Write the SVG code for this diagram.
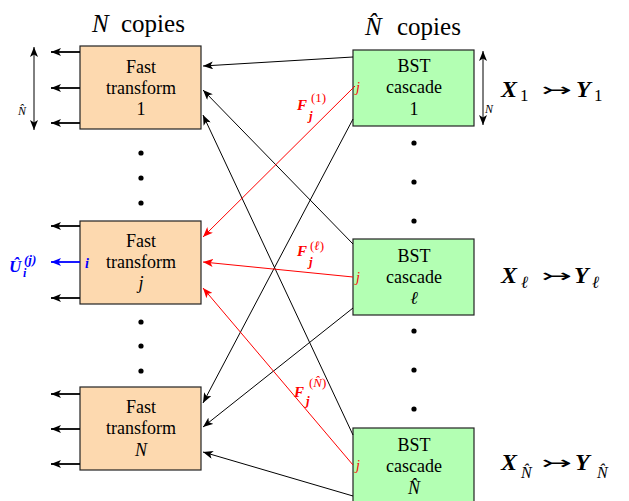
<svg xmlns="http://www.w3.org/2000/svg" width="629" height="501" viewBox="0 0 629 501" font-family="Liberation Serif, serif">
<style>
.fast{fill:#fdd9af;stroke:#222;stroke-width:1.2}
.bst{fill:#b3ffb3;stroke:#222;stroke-width:1.2}
.lbl{font-size:18px;text-anchor:middle}
.it{font-style:italic}
.bi{font-style:italic;font-weight:bold}
.out{stroke:#000;stroke-width:1.8;fill:none}
.con{stroke:#000;stroke-width:1;fill:none}
.red{stroke:#f00;stroke-width:1;fill:none}
.blue{stroke:#00f;stroke-width:1.8;fill:none}
.r{fill:#f00}
.b{fill:#00f}
</style>
<defs>
<marker id="ak" viewBox="0 0 10 8" refX="10" refY="4" markerWidth="10" markerHeight="8" orient="auto-start-reverse" markerUnits="userSpaceOnUse"><path d="M10,4 L0,0 L2.5,4 L0,8 z" fill="#000"/></marker>
<marker id="ar" viewBox="0 0 10 8" refX="10" refY="4" markerWidth="10" markerHeight="8" orient="auto" markerUnits="userSpaceOnUse"><path d="M10,4 L0,0 L2.5,4 L0,8 z" fill="#f00"/></marker>
<marker id="ab" viewBox="0 0 10 8" refX="10" refY="4" markerWidth="10" markerHeight="8" orient="auto" markerUnits="userSpaceOnUse"><path d="M10,4 L0,0 L2.5,4 L0,8 z" fill="#00f"/></marker>
</defs>

<g id="titles" font-family="Liberation Serif, serif">
<text x="92" y="32" font-size="25"><tspan class="it">N</tspan><tspan x="121">copies</tspan></text>
<text x="365" y="35" font-size="25"><tspan class="it">N̂</tspan><tspan x="397">copies</tspan></text>
</g>

<g id="fast1" font-family="Liberation Serif, serif">
<rect class="fast" x="80" y="46" width="121" height="83"/>
<text class="lbl" x="141" y="73">Fast</text>
<text class="lbl" x="141" y="94">transform</text>
<text class="lbl" x="141" y="115">1</text>
<line class="out" x1="80" y1="52" x2="51" y2="52" marker-end="url(#ak)"/>
<line class="out" x1="80" y1="88" x2="51" y2="88" marker-end="url(#ak)"/>
<line class="out" x1="80" y1="123" x2="51" y2="123" marker-end="url(#ak)"/>
<line class="con" x1="34" y1="47" x2="34" y2="130" marker-start="url(#ak)" marker-end="url(#ak)"/>
<text x="18" y="115" font-size="12" class="it">N̂</text>
</g>

<g id="fastj" font-family="Liberation Serif, serif">
<rect class="fast" x="80" y="221" width="121" height="83"/>
<text class="lbl" x="141" y="247">Fast</text>
<text class="lbl" x="141" y="268">transform</text>
<text class="lbl it" x="141" y="289">j</text>
<line class="out" x1="80" y1="226" x2="51" y2="226" marker-end="url(#ak)"/>
<line class="blue" x1="80" y1="262" x2="51" y2="262" marker-end="url(#ab)"/>
<line class="out" x1="80" y1="298" x2="51" y2="298" marker-end="url(#ak)"/>
<text x="85" y="268" font-size="14" class="bi b">i</text>
<text x="9" y="272" font-size="17" class="bi b">Û</text>
<text x="24" y="264" font-size="13" class="bi b">(j)</text>
<text x="23" y="277" font-size="12" class="bi b">i</text>
</g>

<g id="fastN" font-family="Liberation Serif, serif">
<rect class="fast" x="80" y="387" width="121" height="83"/>
<text class="lbl" x="141" y="413">Fast</text>
<text class="lbl" x="141" y="434">transform</text>
<text class="lbl it" x="141" y="456">N</text>
<line class="out" x1="80" y1="394" x2="51" y2="394" marker-end="url(#ak)"/>
<line class="out" x1="80" y1="429" x2="51" y2="429" marker-end="url(#ak)"/>
<line class="out" x1="80" y1="464" x2="51" y2="464" marker-end="url(#ak)"/>
</g>

<g id="bst1" font-family="Liberation Serif, serif">
<rect class="bst" x="353" y="50" width="121" height="76"/>
<text class="lbl" x="414" y="72">BST</text>
<text class="lbl" x="414" y="93">cascade</text>
<text class="lbl" x="414" y="115">1</text>
<text x="356" y="92" font-size="14" class="it r">j</text>
<line class="con" x1="483" y1="51" x2="483" y2="125" marker-start="url(#ak)" marker-end="url(#ak)"/>
<text x="485" y="113" font-size="12" class="it">N</text>
<text x="501" y="97" font-size="24" class="bi">X</text>
<text x="520" y="101" font-size="17">1</text>
<text x="541" y="96" font-size="18" font-family="DejaVu Sans, sans-serif" textLength="31" lengthAdjust="spacingAndGlyphs">↣</text>
<text x="576" y="97" font-size="24" class="bi">Y</text>
<text x="594" y="101" font-size="17">1</text>
</g>

<g id="bstl" font-family="Liberation Serif, serif">
<rect class="bst" x="353" y="239" width="121" height="76"/>
<text class="lbl" x="414" y="262">BST</text>
<text class="lbl" x="414" y="283">cascade</text>
<text class="lbl it" x="414" y="304">ℓ</text>
<text x="356" y="282" font-size="14" class="it r">j</text>
<text x="501" y="283" font-size="24" class="bi">X</text>
<text x="521" y="288" font-size="17" class="it">ℓ</text>
<text x="541" y="282" font-size="18" font-family="DejaVu Sans, sans-serif" textLength="31" lengthAdjust="spacingAndGlyphs">↣</text>
<text x="574" y="283" font-size="24" class="bi">Y</text>
<text x="592" y="288" font-size="17" class="it">ℓ</text>
</g>

<g id="bstN" font-family="Liberation Serif, serif">
<rect class="bst" x="353" y="428" width="121" height="76"/>
<text class="lbl" x="414" y="451">BST</text>
<text class="lbl" x="414" y="472">cascade</text>
<text class="lbl it" x="414" y="494">N̂</text>
<text x="356" y="470" font-size="14" class="it r">j</text>
<text x="501" y="470" font-size="24" class="bi">X</text>
<text x="521" y="478" font-size="16" class="it">N̂</text>
<text x="541" y="469" font-size="18" font-family="DejaVu Sans, sans-serif" textLength="31" lengthAdjust="spacingAndGlyphs">↣</text>
<text x="575" y="470" font-size="24" class="bi">Y</text>
<text x="597" y="478" font-size="16" class="it">N̂</text>
</g>

<g id="dots" fill="#000">
<circle cx="141" cy="153" r="2.6"/><circle cx="141" cy="178" r="2.6"/><circle cx="141" cy="203" r="2.6"/>
<circle cx="141" cy="322" r="2.6"/><circle cx="141" cy="346" r="2.6"/><circle cx="141" cy="371" r="2.6"/>
<circle cx="414" cy="143" r="2.6"/><circle cx="414" cy="182" r="2.6"/><circle cx="414" cy="221" r="2.6"/>
<circle cx="414" cy="331" r="2.6"/><circle cx="414" cy="370" r="2.6"/><circle cx="414" cy="409" r="2.6"/>
</g>

<g id="connectors">
<line class="con" x1="353" y1="57" x2="203" y2="66" marker-end="url(#ak)"/>
<line class="con" x1="353" y1="244" x2="203" y2="90" marker-end="url(#ak)"/>
<line class="con" x1="353" y1="435" x2="203" y2="115" marker-end="url(#ak)"/>
<line class="con" x1="353" y1="119" x2="203" y2="403" marker-end="url(#ak)"/>
<line class="con" x1="353" y1="308" x2="203" y2="427" marker-end="url(#ak)"/>
<line class="con" x1="353" y1="496" x2="203" y2="452" marker-end="url(#ak)"/>
<line class="red" x1="355" y1="86" x2="203" y2="237" marker-end="url(#ar)"/>
<line class="red" x1="353" y1="277" x2="203" y2="262" marker-end="url(#ar)"/>
<line class="red" x1="353" y1="465" x2="203" y2="288" marker-end="url(#ar)"/>
</g>

<g id="flabels" font-family="Liberation Serif, serif">
<text x="297" y="110" font-size="15" class="bi r">F</text>
<text x="311" y="102" font-size="13" class="r">(1)</text>
<text x="309" y="120" font-size="13" class="bi r">j</text>
<text x="297" y="256" font-size="15" class="bi r">F</text>
<text x="310" y="250" font-size="13" class="r">(<tspan class="it">ℓ</tspan>)</text>
<text x="309" y="266" font-size="13" class="bi r">j</text>
<text x="294" y="397" font-size="15" class="bi r">F</text>
<text x="309" y="387" font-size="13" class="r">(<tspan class="it">N̂</tspan>)</text>
<text x="306" y="405" font-size="13" class="bi r">j</text>
</g>
</svg>
